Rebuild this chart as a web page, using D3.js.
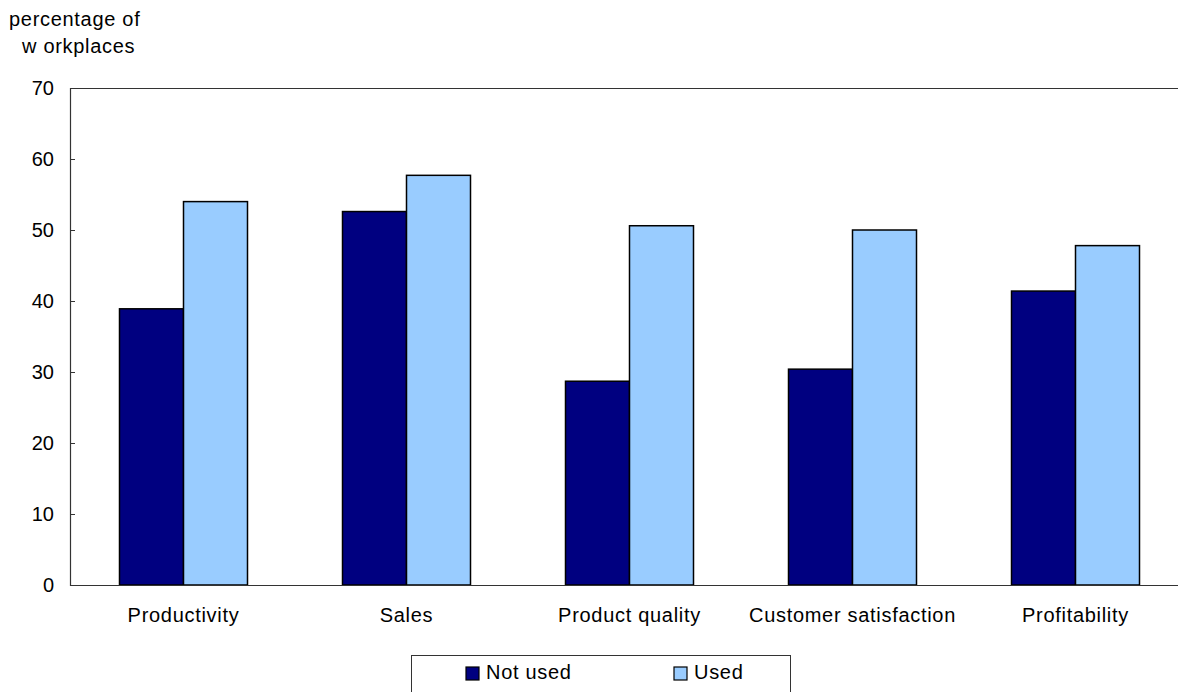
<!DOCTYPE html>
<html>
<head>
<meta charset="utf-8">
<script src="https://cdn.jsdelivr.net/npm/d3@7"></script>
<style>
body{margin:0;background:#fff;}
svg{display:block;font-family:"Liberation Sans",Arial,sans-serif;}
text{letter-spacing:0.7px;}
</style>
</head>
<body>
<svg id="chart" width="1178" height="692"></svg>
<script>
const categories = ["Productivity","Sales","Product quality","Customer satisfaction","Profitability"];
const seriesNames = ["Not used","Used"];
const notUsed = [38.9, 52.6, 28.7, 30.4, 41.4];
const used = [54.0, 57.7, 50.6, 50.0, 47.8];
const yTicks = [0,10,20,30,40,50,60,70];
const colors = ["#000080","#99CCFF"];

const svg = d3.select("#chart");
const mLeft = 70, mTop = 88, mBottom = 585;
const p = 95/223;
const x = d3.scaleBand().domain(categories).range([mLeft+2, mLeft+2+5*223]).paddingInner(p).paddingOuter(p/2);
const xs = d3.scaleBand().domain(seriesNames).range([0, x.bandwidth()]);
const y = d3.scaleLinear().domain([0,70]).range([mBottom, mTop]);

const data = categories.map((c,i)=>({cat:c, vals:[notUsed[i], used[i]]}));

// top border
svg.append("line").attr("x1",mLeft).attr("x2",1178).attr("y1",mTop+0.5).attr("y2",mTop+0.5)
  .attr("stroke","#333").attr("stroke-width",1.2);

// bars
const g = svg.append("g");
data.forEach(d=>{
  d.vals.forEach((v,j)=>{
    g.append("rect")
      .attr("x", x(d.cat)+xs(seriesNames[j]))
      .attr("y", y(v))
      .attr("width", xs.bandwidth())
      .attr("height", y(0)-y(v))
      .attr("fill", colors[j])
      .attr("stroke","#000").attr("stroke-width",1.5);
  });
});

// y axis
const yAxis = d3.axisRight(y).tickValues(yTicks).tickSize(5).tickFormat("");
const ya = svg.append("g").attr("transform",`translate(${mLeft},0)`).call(yAxis);
ya.select(".domain").attr("stroke","#333").attr("stroke-width",1.2);
ya.selectAll(".tick line").attr("stroke","#333");
svg.append("g").selectAll("text").data(yTicks).join("text")
  .attr("x", mLeft-16).attr("y", d=>y(d)+7)
  .attr("text-anchor","end").attr("font-size",20).attr("fill","#000")
  .style("letter-spacing","0px")
  .text(d=>d);

// x axis line
svg.append("line").attr("x1",mLeft).attr("x2",1178).attr("y1",mBottom+0.5).attr("y2",mBottom+0.5)
  .attr("stroke","#333").attr("stroke-width",1.2);

// category labels
svg.append("g").selectAll("text").data(categories).join("text")
  .attr("x", d=>x(d)+x.bandwidth()/2).attr("y", 622)
  .attr("text-anchor","middle").attr("font-size",20).attr("fill","#000")
  .text(d=>d);

// y label
svg.append("text").attr("x",9).attr("y",26).attr("font-size",20).text("percentage of");
svg.append("text").attr("x",22).attr("y",53).attr("font-size",20).text("w orkplaces");

// legend
svg.append("rect").attr("x",411.5).attr("y",655.5).attr("width",379).attr("height",50)
  .attr("fill","#fff").attr("stroke","#333").attr("stroke-width",1);
const lx = [466, 674];
seriesNames.forEach((s,j)=>{
  svg.append("rect").attr("x",lx[j]).attr("y",667).attr("width",13).attr("height",13)
    .attr("fill",colors[j]).attr("stroke","#000").attr("stroke-width",1.2);
  svg.append("text").attr("x",lx[j]+20).attr("y",679).attr("font-size",20).text(s);
});
</script>
</body>
</html>
